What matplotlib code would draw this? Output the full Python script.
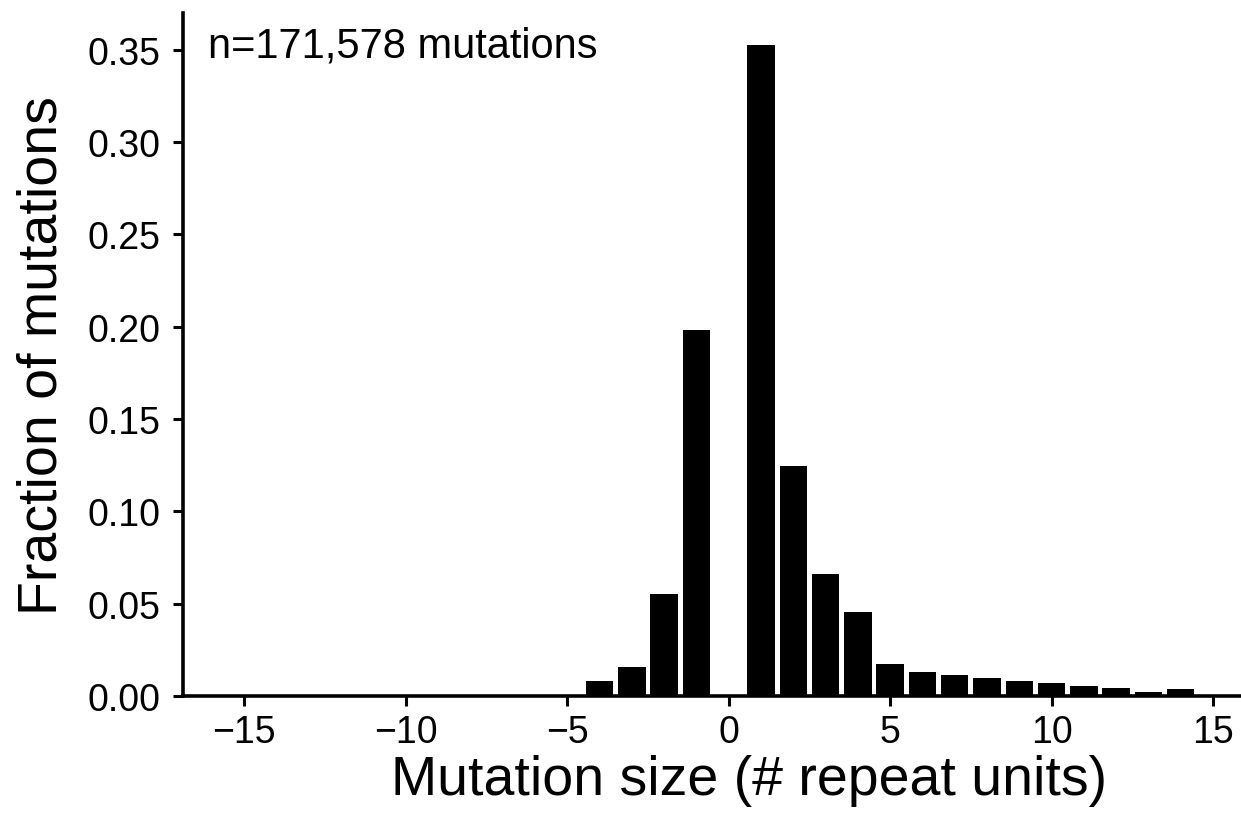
import matplotlib.pyplot as plt

plt.rcParams["font.family"] = ["Liberation Sans", "DejaVu Sans"]

# mutation size (repeat units) and fraction of mutations
SIZES = [-5, -4, -3, -2, -1, 1, 2, 3, 4, 5, 6, 7, 8, 9, 10, 11, 12, 13, 14]
FRACTIONS = [0.0006, 0.0081, 0.0158, 0.0550, 0.1985, 0.3525, 0.1245, 0.0660,
             0.0455, 0.0176, 0.0132, 0.0112, 0.0100, 0.0083, 0.0070, 0.0056,
             0.0043, 0.0023, 0.0037]
X_TICKS = [-15, -10, -5, 0, 5, 10, 15]
Y_TICKS = [0.00, 0.05, 0.10, 0.15, 0.20, 0.25, 0.30, 0.35]
N_TEXT = "n=171,578 mutations"


def main():
    fig = plt.figure(figsize=(12.41, 8.20), dpi=100)
    ax = fig.add_axes([0.1475, 0.15, 0.852, 0.833])

    ax.bar(SIZES, FRACTIONS, width=0.85, color="black", edgecolor="none")

    ax.set_xlim(-16.9, 15.85)
    ax.set_ylim(0, 0.37)
    ax.set_xticks(X_TICKS)
    ax.set_xticklabels([f"\u2212{abs(t)}" if t < 0 else str(t) for t in X_TICKS])
    ax.set_yticks(Y_TICKS)
    ax.set_yticklabels([f"{t:.2f}" for t in Y_TICKS])

    for side in ("top", "right"):
        ax.spines[side].set_visible(False)
    for side in ("left", "bottom"):
        ax.spines[side].set_linewidth(2.6)
    ax.tick_params(axis="both", length=7, width=2.2, labelsize=27)
    ax.tick_params(axis="x", pad=6)
    ax.tick_params(axis="y", pad=9)

    ax.set_xlabel("Mutation size (# repeat units)", fontsize=40, labelpad=6)
    ax.xaxis.set_label_coords(0.535, -0.085)
    ax.set_ylabel("Fraction of mutations", fontsize=40, labelpad=14)

    ax.text(0.024, 0.982, N_TEXT, transform=ax.transAxes, fontsize=30,
            ha="left", va="top")

    fig.savefig("out.png", dpi=100)
    plt.close(fig)


if __name__ == "__main__":
    main()
